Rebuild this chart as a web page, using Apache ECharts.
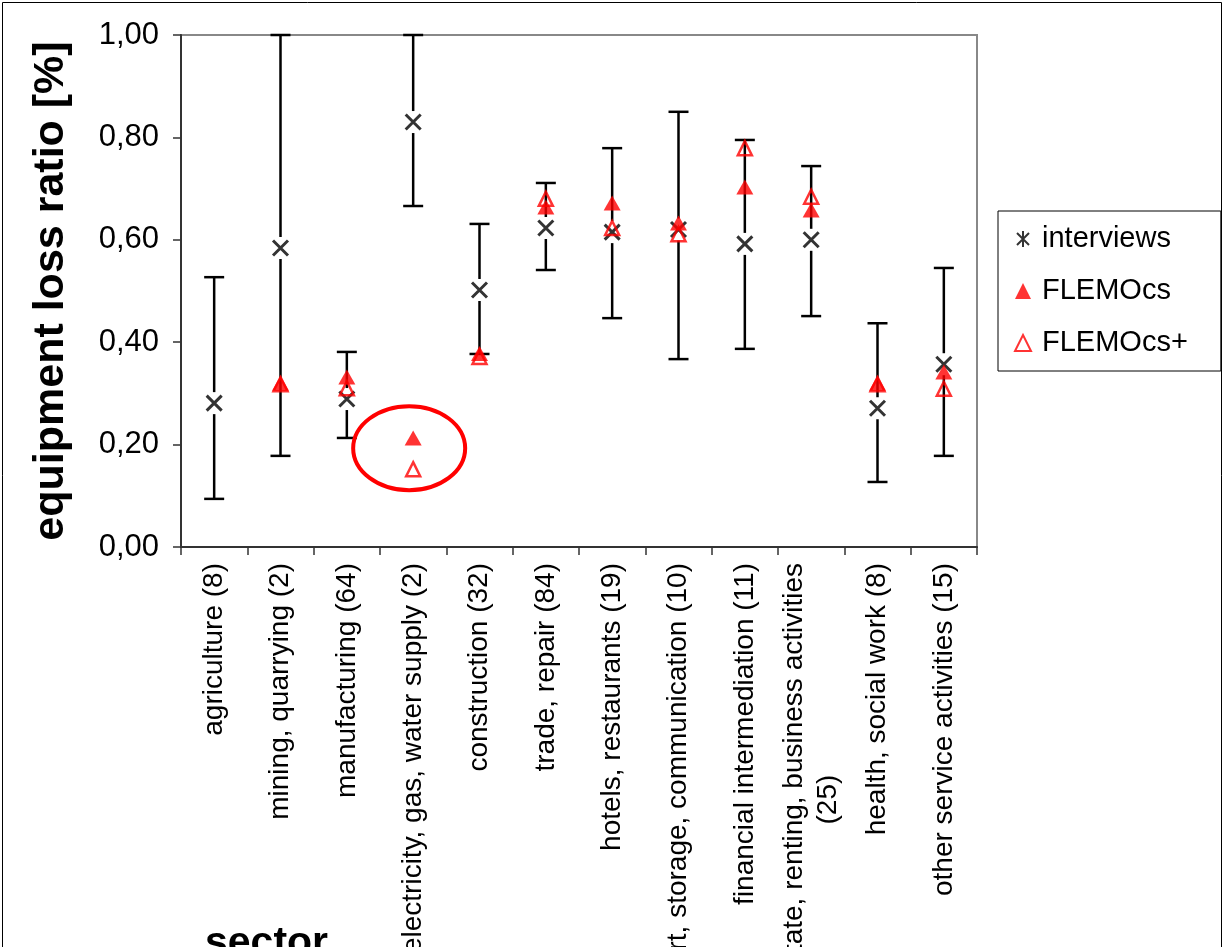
<!DOCTYPE html>
<html>
<head>
<meta charset="utf-8">
<script src="https://cdn.jsdelivr.net/npm/echarts@6/dist/echarts.min.js"></script>
<style>
  html, body { margin: 0; padding: 0; background: #fff; }
  #chart { width: 1226px; height: 947px; }
</style>
</head>
<body>
<div id="chart"></div>
<script>
var categories = [
    'agriculture (8)',
    'mining, quarrying (2)',
    'manufacturing (64)',
    'electricity, gas, water supply (2)',
    'construction (32)',
    'trade, repair (84)',
    'hotels, restaurants (19)',
    'transport, storage, communication (10)',
    'financial intermediation (11)',
    'real estate, renting, business activities\n(25)',
    'health, social work (8)',
    'other service activities (15)'
];
var yTicks = [0, 0.2, 0.4, 0.6, 0.8, 1.0];

// mean loss ratio from interviews with min / max bars
var interviews = [0.281, 0.584, 0.289, 0.830, 0.502, 0.623, 0.615, 0.620, 0.592, 0.600, 0.271, 0.357];
var errLow = [0.094, 0.178, 0.213, 0.666, 0.377, 0.541, 0.447, 0.367, 0.387, 0.451, 0.127, 0.178];
var errHigh = [0.527, 1.000, 0.381, 1.000, 0.631, 0.711, 0.779, 0.850, 0.795, 0.744, 0.437, 0.545];

// model estimates
var flemocs = [null, 0.320, 0.332, 0.213, 0.378, 0.664, 0.672, 0.633, 0.703, 0.658, 0.320, 0.342];
var flemocsPlus = [null, 0.318, 0.310, 0.152, 0.371, 0.680, 0.623, 0.611, 0.779, 0.684, 0.318, 0.309];

// the circled outlier (electricity, gas, water supply)
var highlightIndex = 3;
var highlightValue = 0.193;

var chart = echarts.init(document.getElementById('chart'), null, { renderer: 'canvas' });

var crossPath = 'path://M0,0L14,14M14,0L0,14';
var starPath = 'path://M1,2L13,14M13,2L1,14M7,0L7,16';

var errData = interviews.map(function (v, i) {
    return [i, errLow[i], errHigh[i], v];
});

var option = {
    backgroundColor: '#fff',
    animation: false,
    textStyle: { fontFamily: '"Liberation Sans", Arial, sans-serif' },
    grid: {
        left: 181,
        right: 249,
        top: 35,
        bottom: 400,
        outerBoundsMode: 'none',
        containLabel: false,
        show: true,
        borderColor: '#888',
        borderWidth: 2
    },
    legend: {
        orient: 'vertical',
        left: 998,
        top: 211,
        padding: [12, 33, 12, 16],
        itemGap: 20,
        itemWidth: 16,
        itemHeight: 16,
        borderColor: '#000',
        borderWidth: 1,
        textStyle: { fontSize: 29, color: '#000', lineHeight: 32, padding: [0, 0, 0, 6] },
        data: [
            { name: 'interviews', icon: starPath },
            { name: 'FLEMOcs' },
            { name: 'FLEMOcs+' }
        ]
    },
    xAxis: {
        type: 'category',
        data: categories,
        axisLine: { lineStyle: { color: '#333', width: 2 } },
        axisTick: { show: true, interval: 0, length: 8, lineStyle: { color: '#333', width: 1.5 } },
        axisLabel: {
            interval: 0,
            rotate: 90,
            fontSize: 28,
            lineHeight: 34,
            color: '#000',
            margin: 16,
            formatter: function (name) {
                var parts = name.split('\n');
                if (parts.length < 2) return name;
                return parts[0] + '\n{c|' + parts[1] + '}';
            },
            rich: {
                c: { fontSize: 28, lineHeight: 34, color: '#000', align: 'center' }
            }
        },
        splitLine: { show: false }
    },
    yAxis: {
        type: 'value',
        min: yTicks[0],
        max: yTicks[yTicks.length - 1],
        interval: 0.2,
        name: 'equipment loss ratio [%]',
        nameLocation: 'middle',
        nameGap: 108,
        nameTextStyle: { fontSize: 43, fontWeight: 'bold', color: '#000' },
        axisLine: { show: true, lineStyle: { color: '#333', width: 2 } },
        axisTick: { show: true, length: 8, lineStyle: { color: '#333', width: 1.5 } },
        axisLabel: {
            fontSize: 31,
            color: '#000',
            margin: 22,
            formatter: function (v) { return v.toFixed(2).replace('.', ','); }
        },
        splitLine: { show: false }
    },
    series: [
        {
            name: 'range',
            type: 'custom',
            z: 1,
            silent: true,
            data: errData,
            renderItem: function (params, api) {
                var x = api.value(0);
                var lo = api.coord([x, api.value(1)]);
                var hi = api.coord([x, api.value(2)]);
                var mid = api.coord([x, api.value(3)]);
                var cap = 10, gap = 11;
                var st = { stroke: '#000', lineWidth: 2.5 };
                return {
                    type: 'group',
                    children: [
                        { type: 'line', shape: { x1: lo[0], y1: lo[1], x2: mid[0], y2: mid[1] + gap }, style: st },
                        { type: 'line', shape: { x1: mid[0], y1: mid[1] - gap, x2: hi[0], y2: hi[1] }, style: st },
                        { type: 'line', shape: { x1: lo[0] - cap, y1: lo[1], x2: lo[0] + cap, y2: lo[1] }, style: st },
                        { type: 'line', shape: { x1: hi[0] - cap, y1: hi[1], x2: hi[0] + cap, y2: hi[1] }, style: st }
                    ]
                };
            }
        },
        {
            name: 'interviews',
            type: 'scatter',
            z: 2,
            symbol: crossPath,
            symbolSize: 15,
            itemStyle: { color: 'rgba(0,0,0,0)', borderColor: '#000', borderWidth: 3 },
            data: interviews
        },
        {
            name: 'FLEMOcs',
            type: 'scatter',
            z: 3,
            symbol: 'triangle',
            symbolSize: [17, 15],
            itemStyle: { color: '#ff0000' },
            data: flemocs
        },
        {
            name: 'FLEMOcs+',
            type: 'scatter',
            z: 4,
            symbol: 'triangle',
            symbolSize: [14, 14],
            itemStyle: { color: 'rgba(255,0,0,0)', borderColor: '#ff0000', borderWidth: 2.5 },
            data: flemocsPlus
        }
    ]
};

chart.setOption(option);

var c = chart.convertToPixel({ xAxisIndex: 0, yAxisIndex: 0 }, [highlightIndex, highlightValue]);
chart.setOption({
    graphic: [
        {
            type: 'rect',
            silent: true,
            shape: { x: 2.5, y: 2.5, width: 1219, height: 1000 },
            style: { fill: 'none', stroke: '#000', lineWidth: 1 }
        },
        {
            type: 'ellipse',
            silent: true,
            shape: { cx: c[0] - 4, cy: c[1], rx: 56, ry: 42 },
            style: { fill: 'none', stroke: '#ff0000', lineWidth: 4 },
            z: 10
        },
        {
            type: 'text',
            silent: true,
            x: 205,
            y: 923,
            style: {
                text: 'sector',
                font: 'bold 41px "Liberation Sans", Arial, sans-serif',
                fill: '#000'
            }
        }
    ]
});
</script>
</body>
</html>
